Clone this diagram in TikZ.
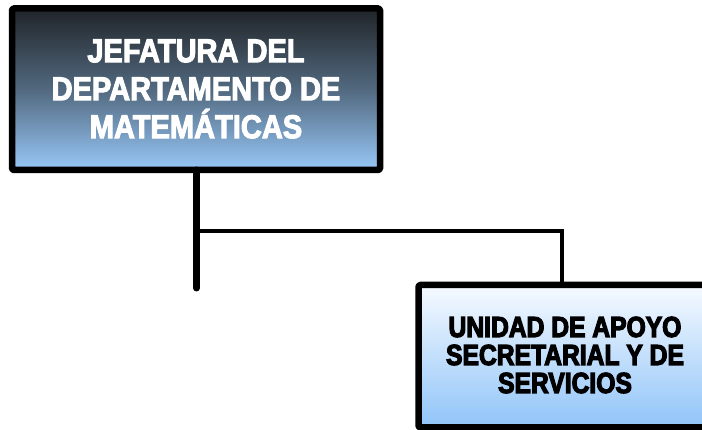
\documentclass[tikz,border=0pt]{standalone}
\usepackage{fontspec}
\setmainfont{Liberation Sans}
\newfontfamily\hdrfont[FakeStretch=0.88,BoldFont={Liberation Sans Bold},BoldFeatures={FakeBold=3,FakeStretch=0.88}]{Liberation Sans}
\newfontfamily\subfont[FakeStretch=0.85,BoldFont={Liberation Sans Bold},BoldFeatures={FakeBold=4,FakeStretch=0.85}]{Liberation Sans}
\definecolor{navytop}{HTML}{202428}
\definecolor{navymid}{HTML}{52697F}
\definecolor{navybot}{HTML}{98C8F8}
\definecolor{paletop}{HTML}{F6FAFF}
\definecolor{palebot}{HTML}{90C4F8}
\begin{document}
\begin{tikzpicture}[x=1pt,y=-1pt,
  boxline/.style={draw=black,line width=6.5pt,line join=round,rounded corners=1.5pt},
  thickconn/.style={draw=black,line width=7pt,line cap=round},
  thinconn/.style={draw=black,line width=3.5pt,line join=miter}]
\useasboundingbox (0,0) rectangle (702,430);
% top box
\shade[top color=navytop,bottom color=navybot,middle color=navymid] (12,8.5) rectangle (380,170);
\draw[boxline] (12,8.5) rectangle (380,170);
\node[text=white,font=\hdrfont\bfseries\fontsize{33}{38}\selectfont,align=center,inner sep=0pt] (top) at (196,89) {JEFATURA DEL\\DEPARTAMENTO DE\\MATEMÁTICAS};
\coordinate (topbase) at (196.5,170);
\coordinate (trunkend) at (196.5,288);
\coordinate (branch) at (196.5,231);
\coordinate (corner) at (562,231);
% bottom box
\begin{scope}
\clip (0,0) rectangle (702,430);
\shade[top color=paletop,bottom color=palebot] (418.5,285) rectangle (712,427.5);
\draw[boxline] (418.5,285) rectangle (712,427.5);
\end{scope}
\coordinate (subtop) at (562,285);
\node[text=black,font=\subfont\bfseries\fontsize{29}{28}\selectfont,align=center,inner sep=0pt] (sub) at (565,355) {UNIDAD DE APOYO\\SECRETARIAL Y DE\\SERVICIOS};
% connectors
\draw[thinconn] (branch) -- (corner) -- (subtop);
\draw[thickconn] (topbase) -- (trunkend);
\end{tikzpicture}
\end{document}
